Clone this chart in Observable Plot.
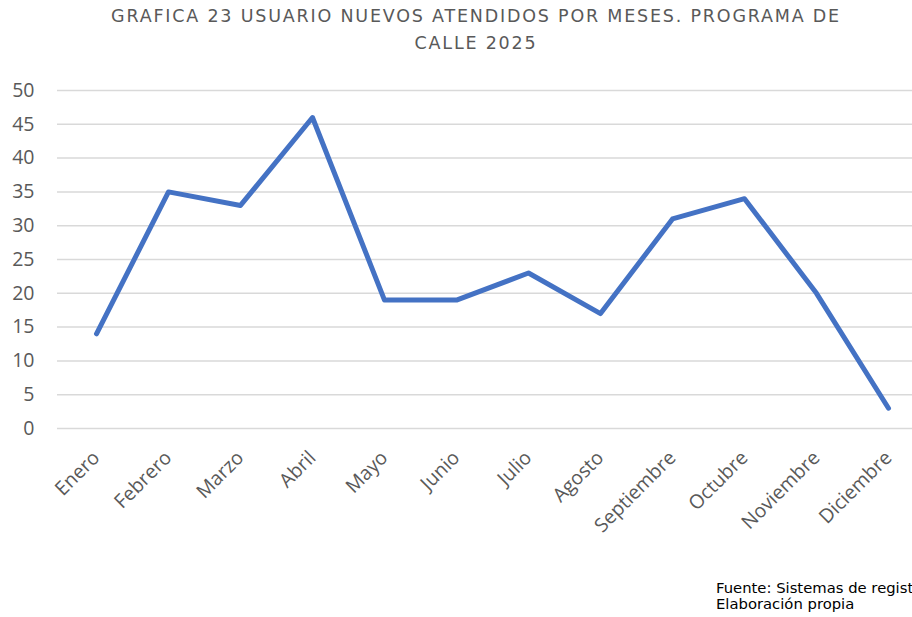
<!DOCTYPE html>
<html>
<head>
<meta charset="utf-8">
<script src="https://cdn.jsdelivr.net/npm/d3@7"></script>
<script src="https://cdn.jsdelivr.net/npm/@observablehq/plot@0.6"></script>
<style>
  html, body { margin: 0; padding: 0; background: #fff; width: 912px; height: 617px; overflow: hidden; }
  #wrap { position: relative; width: 912px; height: 617px; overflow: hidden; }
  #title { position: absolute; left: 0; top: 3px; width: 952px; text-align: center; font-family: "DejaVu Sans", sans-serif; font-size: 17.5px; letter-spacing: 1.8px; line-height: 27px; color: #595959; }
  #chart { position: absolute; left: 0; top: 0; width: 930px; }
  #chart svg { max-width: none !important; }
  #note { position: absolute; left: 716px; top: 580px; font-family: "DejaVu Sans", sans-serif; font-size: 14.8px; line-height: 16px; color: #000; white-space: nowrap; }
</style>
</head>
<body>
<div id="wrap">
  <div id="chart"></div>
  <div id="title">GRAFICA 23 USUARIO NUEVOS ATENDIDOS POR MESES. PROGRAMA DE<br>CALLE 2025</div>
  <div id="note">Fuente: Sistemas de regist<br>Elaboración propia</div>
</div>
<script>
const months = ["Enero","Febrero","Marzo","Abril","Mayo","Junio","Julio","Agosto","Septiembre","Octubre","Noviembre","Diciembre"];
const values = [14, 35, 33, 46, 19, 19, 23, 17, 31, 34, 20, 3];
const yTicks = [0, 5, 10, 15, 20, 25, 30, 35, 40, 45, 50];

const data = months.map((m, i) => ({month: m, value: values[i]}));

const chart = Plot.plot({
  width: 930,
  height: 617,
  marginLeft: 57,
  marginRight: 4,
  marginTop: 90,
  marginBottom: 189,
  style: {background: "transparent", fontFamily: "'Open Sans', sans-serif", maxWidth: "none"},
  x: {type: "point", domain: months, padding: 0.5},
  y: {domain: [0, 50]},
  marks: [
    Plot.gridY(yTicks, {stroke: "#d9d9d9", strokeOpacity: 1, strokeWidth: 1.5}),
    Plot.axisY(yTicks, {tickSize: 0, tickPadding: 23, fontSize: 19.5, fill: "#595959", label: null}),
    Plot.axisX({tickSize: 0, tickRotate: -45, tickPadding: 26, fontSize: 19.5, fill: "#595959", label: null}),
    Plot.lineY(data, {x: "month", y: "value", stroke: "#4472C4", strokeWidth: 5, strokeLinejoin: "round", strokeLinecap: "round"})
  ]
});
document.getElementById("chart").appendChild(chart);
</script>
</body>
</html>
